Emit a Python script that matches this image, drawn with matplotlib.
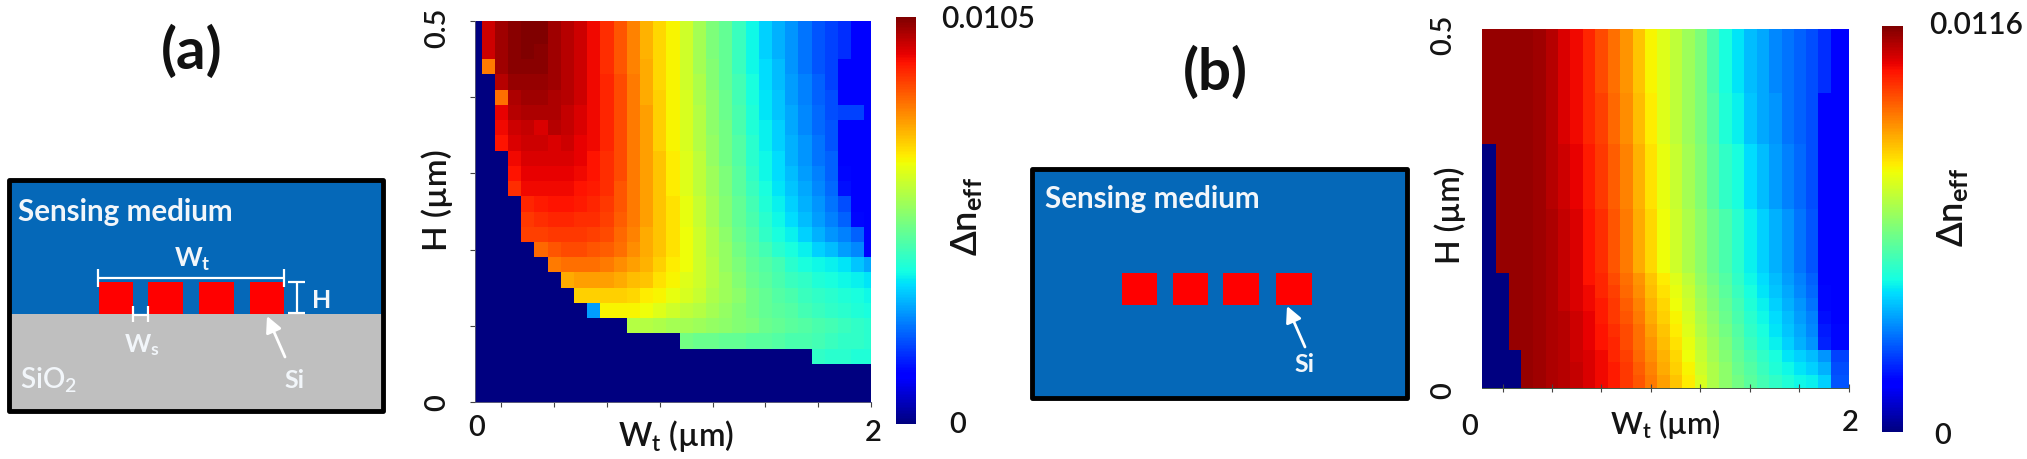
import numpy as np
import matplotlib
matplotlib.use("Agg")
import matplotlib.pyplot as plt
from matplotlib.patches import Rectangle, FancyArrowPatch
from matplotlib.colors import Normalize

plt.rcParams['font.family'] = ['Lato', 'Open Sans', 'DejaVu Sans']
plt.rcParams['mathtext.fontset'] = 'custom'
plt.rcParams['mathtext.rm'] = 'Lato:semibold'
plt.rcParams['mathtext.bf'] = 'Lato:bold'
plt.rcParams['mathtext.it'] = 'Lato:italic'
plt.rcParams['mathtext.default'] = 'regular'

W, H = 2027, 459

# Panel (a): delta n_eff in percent of full scale, top row (H = 0.5) first
a_max = 0.0105
a_pct = [
 [0,93,97,99,100,100,97,95,93,90,86,82,77,72,68,65,60,55,50,47,42,37,33,30,27,24,21,19,17,11,11],
 [0,93,97,99,100,100,97,95,93,90,86,82,77,72,68,65,60,55,50,47,42,37,33,30,27,24,21,19,17,11,11],
 [0,93,97,99,100,99,97,95,93,90,86,82,77,72,68,65,60,55,50,47,42,37,33,30,27,24,21,19,17,11,11],
 [0,78,97,99,99,99,97,95,93,90,86,82,77,73,68,65,60,55,51,47,42,37,34,31,27,24,21,19,11,11,11],
 [0,0,95,98,98,98,97,95,93,90,87,83,78,73,68,65,60,56,51,47,43,38,34,31,28,25,22,19,11,11,11],
 [0,0,79,96,97,97,96,95,93,90,87,83,78,73,69,65,61,56,52,48,43,38,35,32,28,25,22,20,11,11,11],
 [0,0,91,95,96,96,96,94,92,90,87,83,78,74,69,65,61,57,52,48,44,39,35,32,29,26,23,20,19,19,11],
 [0,0,90,93,94,92,95,94,92,90,87,83,78,74,69,65,61,57,52,49,44,39,36,33,29,26,23,21,11,11,11],
 [0,0,89,92,93,93,92,93,91,90,87,83,78,74,69,65,61,57,53,49,45,40,36,33,30,27,24,21,12,11,11],
 [0,0,0,90,92,92,92,92,91,89,86,83,78,74,70,66,62,58,53,49,45,40,37,34,30,27,24,22,12,11,11],
 [0,0,0,89,91,91,91,91,90,89,86,83,78,74,70,66,62,58,54,50,46,41,37,34,31,28,25,22,13,11,11],
 [0,0,0,86,90,90,90,90,89,88,86,82,78,74,70,66,62,58,54,50,46,42,38,35,32,29,26,23,14,11,11],
 [0,0,0,0,87,88,89,89,88,87,85,82,78,74,70,67,63,59,55,51,47,43,39,36,33,30,27,24,20,12,11],
 [0,0,0,0,85,86,87,87,86,86,84,81,78,74,70,67,63,59,55,51,47,44,40,37,34,31,28,25,22,13,11],
 [0,0,0,0,84,84,85,85,85,84,83,80,77,73,70,67,64,60,56,52,48,45,41,38,36,33,30,27,25,22,12],
 [0,0,0,0,0,80,82,83,83,82,81,79,76,73,70,67,64,60,56,53,49,46,43,40,38,36,33,31,28,26,12],
 [0,0,0,0,0,0,78,79,79,79,78,76,74,72,69,66,64,60,57,53,50,47,45,43,40,38,37,36,35,32,29],
 [0,0,0,0,0,0,0,73,74,74,74,73,71,70,67,65,62,60,57,54,51,48,46,44,42,41,39,38,37,36,35],
 [0,0,0,0,0,0,0,0,69,69,69,69,68,66,65,63,61,59,56,54,52,49,47,45,44,42,41,40,39,38,37],
 [0,0,0,0,0,0,0,0,0,28,65,65,65,64,62,60,58,57,55,53,51,49,47,46,45,43,42,41,40,39,38],
 [0,0,0,0,0,0,0,0,0,0,0,0,57,57,56,55,55,54,53,52,51,50,48,47,46,45,44,43,42,41,40],
 [0,0,0,0,0,0,0,0,0,0,0,0,0,0,0,0,49,48,48,47,47,46,46,45,44,44,43,42,41,41,40],
 [0,0,0,0,0,0,0,0,0,0,0,0,0,0,0,0,0,0,0,0,0,0,0,0,0,0,41,40,40,39,39],
 [0]*31,
 [0]*31,
 [0]*31,
]
a_xticks = [0.133, 0.4, 0.667, 0.933, 1.2, 1.467, 1.733, 2.0]
a_yticks = [0.0, 0.1, 0.2, 0.3, 0.4, 0.5]

# Panel (b): same units; each distinct row with the number of times it repeats
b_max = 0.0116
b_rows = [
 [98,98,98,98,97,95,92,90,87,83,79,75,70,65,62,58,54,50,44,38,35,31,29,26,24,22,20,17,11],
 [98,98,98,98,97,95,92,90,87,84,80,76,71,66,62,58,54,50,45,39,36,32,29,27,24,22,20,11,11],
 [0,98,98,98,97,95,93,91,88,85,81,77,72,67,63,59,55,51,46,41,38,34,31,28,25,23,20,11,11],
 [0,98,98,98,97,96,94,92,89,86,82,78,73,68,64,60,56,52,48,44,40,36,33,30,27,24,21,11,11],
 [0,0,98,98,97,96,94,92,89,87,83,79,75,70,66,62,58,53,49,45,41,37,34,31,28,25,22,12,11],
 [0,0,98,98,97,96,94,92,90,87,84,80,76,71,67,63,59,54,50,46,42,38,35,32,29,26,23,13,11],
 [0,0,98,98,97,96,94,92,90,88,85,81,77,72,68,64,60,55,51,47,43,39,36,33,30,27,24,13,12],
 [0,0,98,98,97,96,95,93,91,88,85,82,78,73,69,65,61,56,52,48,44,40,37,34,31,28,25,14,12],
 [0,0,98,98,97,96,95,93,91,89,86,83,79,74,70,66,62,57,53,49,45,41,38,35,32,29,26,15,13],
 [0,0,98,98,97,96,95,93,91,89,87,83,79,75,71,67,63,58,54,50,46,42,39,36,33,30,27,16,13],
 [0,0,0,98,97,96,95,93,92,90,87,84,80,76,72,68,64,59,55,51,47,44,41,38,35,33,31,27,19],
 [0,0,0,98,97,96,95,94,92,90,88,85,81,77,73,69,65,60,56,52,48,45,42,39,37,35,33,30,20],
 [0,0,0,98,97,96,95,94,92,90,88,85,82,78,74,70,66,61,56,52,49,46,43,41,39,37,36,33,21],
]
b_repeats = [5, 4, 5, 5, 1, 1, 1, 1, 1, 1, 1, 1, 1]
b_xedges = [0.000, 0.076, 0.146, 0.212, 0.279, 0.347, 0.415, 0.482, 0.550, 0.618, 0.685,
            0.753, 0.821, 0.888, 0.956, 1.024, 1.091, 1.159, 1.227, 1.294, 1.362, 1.430,
            1.497, 1.565, 1.633, 1.700, 1.768, 1.833, 1.904, 2.000]
b_xticks = [0.114, 0.382, 0.65, 0.92, 1.19, 1.46, 1.73, 2.0]

fig = plt.figure(figsize=(W / 100, H / 100), dpi=100)


def px_axes(x0, y0, x1, y1, **kw):
    return fig.add_axes([x0 / W, 1 - y1 / H, (x1 - x0) / W, (y1 - y0) / H], **kw)


def style_heat(ax, xticks, yticks):
    ax.set_xlim(0, 2)
    ax.set_ylim(0, 0.5)
    ax.set_xticks(xticks)
    ax.set_yticks(yticks)
    ax.tick_params(length=3.5, width=0.8, color='#444444',
                   labelbottom=False, labelleft=False)
    for s in ('top', 'right'):
        ax.spines[s].set_visible(False)
    for s in ('left', 'bottom'):
        ax.spines[s].set_linewidth(0.7)
        ax.spines[s].set_color('#555577')


def colorbar(mesh, x0, y0, x1, y1):
    cax = px_axes(x0, y0, x1, y1)
    cb = fig.colorbar(mesh, cax=cax)
    cb.set_ticks([])
    cb.outline.set_visible(False)


# Heat map (a)
ax_a = px_axes(475, 21, 871, 402)
a_vals = np.array(a_pct, dtype=float)[::-1] / 100 * a_max
a_x = np.arange(a_vals.shape[1]) * 2 / (a_vals.shape[1] - 1)
a_y = np.arange(a_vals.shape[0]) * 0.5 / (a_vals.shape[0] - 1)
mesh_a = ax_a.pcolormesh(a_x, a_y, a_vals, cmap='jet', norm=Normalize(0, a_max),
                         shading='nearest', rasterized=True)
style_heat(ax_a, a_xticks, a_yticks)
colorbar(mesh_a, 896, 17, 916, 424)

# Heat map (b)
ax_b = px_axes(1482, 29, 1849, 388)
b_vals = np.repeat(np.array(b_rows, dtype=float), b_repeats, axis=0)[::-1] / 100 * b_max
b_yedges = np.arange(b_vals.shape[0] + 1) * 0.5 / b_vals.shape[0]
mesh_b = ax_b.pcolormesh(b_xedges, b_yedges, b_vals, cmap='jet', norm=Normalize(0, b_max),
                         shading='flat', rasterized=True)
style_heat(ax_b, b_xticks, [])
ax_b.tick_params(axis='x', direction='inout', length=6)
ax_b.spines['left'].set_visible(False)
ax_b.spines['bottom'].set_color('#445544')
colorbar(mesh_b, 1882, 26, 1903, 432)

# Overlay in pixel coordinates: schematics and every text
ov = fig.add_axes([0, 0, 1, 1], zorder=5)
ov.set_xlim(0, W)
ov.set_ylim(H, 0)
ov.axis('off')
ov.patch.set_alpha(0)

BLUE = '#0568B8'
GREY = '#BFBFBF'
RED = '#FF0000'
TXT = '#141414'
SOFT = '#F2F6FA'


def rect(x0, y0, x1, y1, **kw):
    ov.add_patch(Rectangle((x0, y0), x1 - x0, y1 - y0, **kw))


def seg(x0, y0, x1, y1, lw=1.6):
    ov.plot([x0, x1], [y0, y1], color='white', lw=lw, solid_capstyle='butt')


def arrow(x0, y0, x1, y1):
    ov.add_patch(FancyArrowPatch((x0, y0), (x1, y1), arrowstyle='-|>', mutation_scale=24,
                                 color='white', lw=2.0, shrinkA=0, shrinkB=0))


def label(x, y, s, size, color=TXT, rot=0, ha='center', weight='semibold'):
    ov.text(x, y, s, fontsize=size, color=color, rotation=rot, ha=ha, va='center',
            weight=weight)


# Schematic (a)
rect(9, 180, 383, 314, fc=BLUE, ec='none')
rect(9, 314, 383, 411, fc=GREY, ec='none')
rect(9, 180, 383, 411, fc='none', ec='black', lw=3.5, joinstyle='round')
for x0, x1 in [(99, 133), (148, 183), (199, 234), (250, 284)]:
    rect(x0, 282, x1, 314, fc=RED, ec='none')
seg(98, 278, 284, 278)
seg(98, 269, 98, 287)
seg(284, 269, 284, 287)
seg(297, 282, 297, 313)
seg(288, 282, 305, 282)
seg(288, 313, 305, 313)
seg(133, 315, 148, 315)
seg(133, 306, 133, 322)
seg(148, 306, 148, 322)
arrow(285, 357, 267, 316)
label(18, 212, 'Sensing medium', 21.3, color=SOFT, ha='left', weight='bold')
label(192, 259, r'$\mathbf{W_{t}}$', 19, color=SOFT)
label(322, 301, 'H', 18, color=SOFT, weight='bold')
label(142, 345, r'$\mathbf{W_{s}}$', 18, color=SOFT)
label(20, 380, r'SiO$_{2}$', 20, color=SOFT, ha='left')
label(295, 380, 'Si', 18, color=SOFT, weight='bold')

# Schematic (b)
rect(1032, 169, 1407, 398, fc=BLUE, ec='black', lw=3.5, joinstyle='round')
for x0, x1 in [(1122, 1157), (1173, 1208), (1223, 1259), (1276, 1312)]:
    rect(x0, 273, x1, 305, fc=RED, ec='none')
arrow(1305, 347, 1287, 306)
label(1045, 199, 'Sensing medium', 21.3, color=SOFT, ha='left', weight='bold')
label(1305, 365, 'Si', 18, color=SOFT, weight='bold')

# Panel letters
label(192, 52, '(a)', 42, color='#111111', weight='bold')
label(1215, 73, '(b)', 42, color='#111111', weight='bold')

# Heat map (a) labels
label(437, 28, '0.5', 21, rot=90)
label(437, 403, '0', 21, rot=90)
label(437, 200, 'H (µm)', 24, rot=90)
label(477, 428, '0', 21)
label(873, 433, '2', 21)
label(676, 436, r'W$_{t}$ (µm)', 23)
label(941, 19, '0.0105', 21.5, ha='left')
label(958, 425, '0', 21)
label(967, 217, r'$\Delta$n$_{\mathbf{eff}}$', 26, rot=90)

# Heat map (b) labels
label(1443, 35, '0.5', 21, rot=90)
label(1443, 391, '0', 21, rot=90)
label(1450, 215, 'H (µm)', 23, rot=90)
label(1470, 427, '0', 21)
label(1850, 423, '2', 21)
label(1665, 424, r'W$_{t}$ (µm)', 22)
label(1929, 25, '0.0116', 21.5, ha='left')
label(1943, 436, '0', 21)
label(1953, 208, r'$\Delta$n$_{\mathbf{eff}}$', 26, rot=90)

fig.savefig('out.png', dpi=100)
